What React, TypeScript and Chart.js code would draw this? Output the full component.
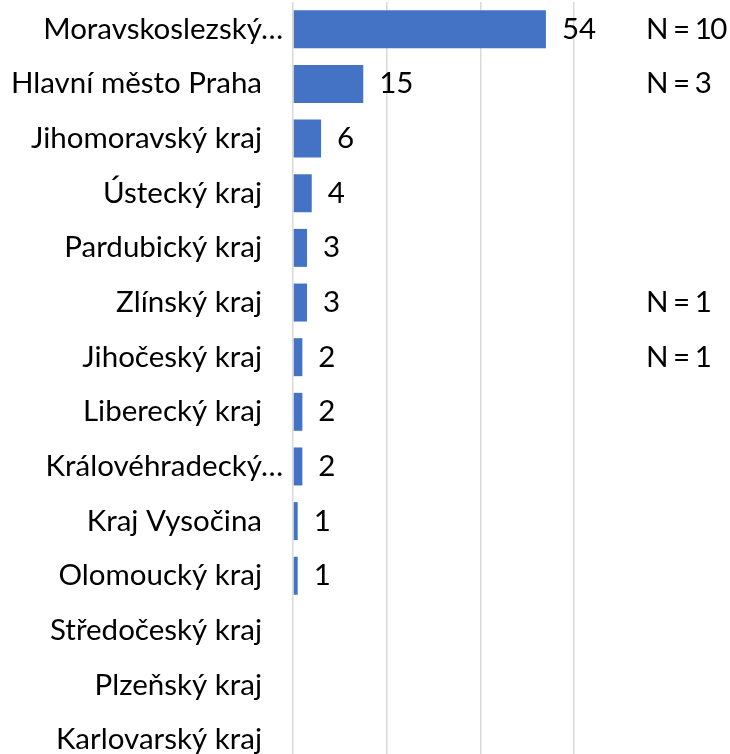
import React, { useEffect, useRef } from "react";
import { Chart, registerables } from "chart.js";

Chart.register(...registerables);

const categories = [
  "Moravskoslezský…",
  "Hlavní město Praha",
  "Jihomoravský kraj",
  "Ústecký kraj",
  "Pardubický kraj",
  "Zlínský kraj",
  "Jihočeský kraj",
  "Liberecký kraj",
  "Královéhradecký…",
  "Kraj Vysočina",
  "Olomoucký kraj",
  "Středočeský kraj",
  "Plzeňský kraj",
  "Karlovarský kraj",
];
const values: (number | null)[] = [54, 15, 6, 4, 3, 3, 2, 2, 2, 1, 1, null, null, null];
const nLabels = ["N = 10", "N = 3", "", "", "", "N = 1", "N = 1", "", "", "", "", "", "", ""];
const xMin = 0;
const xMax = 60;
const xStep = 20;

const FONT = "Lato";
const FONT_SIZE = 29.5;
const TEXT_COLOR = "#000000";
const BAR_COLOR = "#4472C4";
const GRID_COLOR = "#d9d9d9";

const labelsPlugin = {
  id: "customLabels",
  afterDatasetsDraw(chart: any) {
    const { ctx, chartArea, scales } = chart;
    const ys = scales.y;
    const xs = scales.x;
    ctx.save();
    ctx.font = `${FONT_SIZE}px ${FONT}`;
    ctx.fillStyle = TEXT_COLOR;
    ctx.textBaseline = "middle";
    categories.forEach((c, i) => {
      const py = ys.getPixelForValue(i);
      ctx.textAlign = "right";
      const truncated = c.endsWith("…");
      ctx.fillText(c, chartArea.left - (truncated ? 10 : 31), py);
      const v = values[i];
      if (v) {
        ctx.textAlign = "left";
        ctx.fillText(String(v), xs.getPixelForValue(v) + 16, py);
      }
      if (nLabels[i]) {
        ctx.save();
        ctx.textAlign = "left";
        try {
          (ctx as any).letterSpacing = "-1.5px";
        } catch (e) {}
        ctx.fillText(nLabels[i], chartArea.right + 72, py);
        ctx.restore();
      }
    });
    ctx.restore();
  },
};

export default function App() {
  const ref = useRef<HTMLCanvasElement | null>(null);
  useEffect(() => {
    if (!ref.current) return;
    const chart = new Chart(ref.current, {
      type: "bar",
      data: {
        labels: categories,
        datasets: [
          {
            data: values as any,
            backgroundColor: BAR_COLOR,
            borderWidth: 0,
            barPercentage: 0.695,
            categoryPercentage: 1,
          },
        ],
      },
      options: {
        indexAxis: "y",
        animation: false,
        responsive: false,
        layout: { padding: { left: 293, right: 156, top: 2, bottom: 1 } },
        plugins: { legend: { display: false }, tooltip: { enabled: false } },
        scales: {
          x: {
            min: xMin,
            max: xMax,
            ticks: { display: false, stepSize: xStep },
            grid: { color: GRID_COLOR, lineWidth: 1.5, drawTicks: false },
            border: { display: false },
          },
          y: {
            display: false,
          },
        },
      },
      plugins: [labelsPlugin],
    });
    return () => chart.destroy();
  }, []);
  return (
    <div style={{ position: "fixed", left: 0, top: 0, width: 730, height: 768, background: "#fff" }}>
      <canvas ref={ref} width={730} height={768} style={{ display: "block" }} />
    </div>
  );
}
